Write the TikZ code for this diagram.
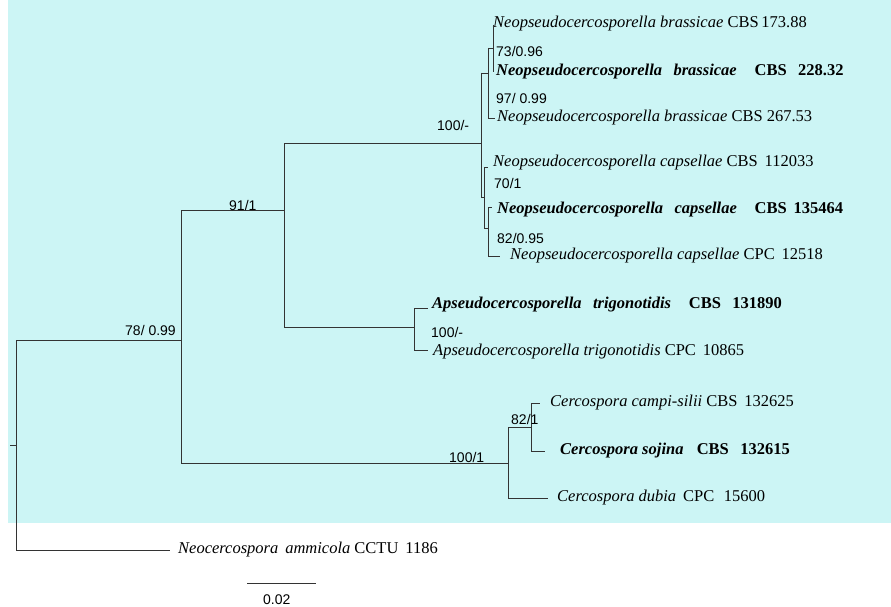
\documentclass[tikz,border=0pt]{standalone}
\usepackage{fontspec}
\setmainfont{Liberation Serif}
\setsansfont{Liberation Sans}
\definecolor{bg}{RGB}{204,245,245}
\begin{document}
\begin{tikzpicture}[x=1pt,y=-1pt,
  br/.style={line width=0.7pt,black!80},
  tx/.style={anchor=west,inner sep=0pt,font=\fontsize{16.5}{18}\selectfont},
  sp/.style={anchor=west,inner sep=0pt,font=\sffamily\fontsize{14}{16}\selectfont}]
\useasboundingbox (0,0) rectangle (891,607);
\fill[bg] (8,0) rectangle (891,523);
\coordinate (r) at (16,445);
\coordinate (rs) at (10,445);
\coordinate (n78) at (181,340);
\coordinate (n91) at (284,210);
\coordinate (n100a) at (481,143);
\coordinate (nbr) at (488,73);
\coordinate (n73) at (493,48);
\coordinate (nca) at (484,197);
\coordinate (n82b) at (488,228);
\coordinate (nap) at (414,327);
\coordinate (n100c) at (508,463);
\coordinate (n82) at (531,427);
% leaves
\node[tx] (t1) at (493,24) {\textit{Neopseudocercosporella brassicae} CBS\,173.88};
\node[tx] (t2) at (496,72) {\textbf{\textit{Neopseudocercosporella\;\, brassicae}\;\;\; CBS\;\, 228.32}};
\node[tx] (t3) at (497,118) {\textit{Neopseudocercosporella brassicae} CBS 267.53};
\node[tx] (t4) at (493,163) {\textit{Neopseudocercosporella capsellae} CBS\, 112033};
\node[tx] (t5) at (497,210) {\textbf{\textit{Neopseudocercosporella\;\, capsellae}\;\;\; CBS\, 135464}};
\node[tx] (t6) at (510,256) {\textit{Neopseudocercosporella capsellae} CPC\, 12518};
\node[tx] (t7) at (432,305) {\textbf{\textit{Apseudocercosporella\;\, trigonotidis}\;\;\; CBS\;\, 131890}};
\node[tx] (t8) at (433,352) {\textit{Apseudocercosporella trigonotidis} CPC\, 10865};
\node[tx] (t9) at (550,403) {\textit{Cercospora campi-silii} CBS\, 132625};
\node[tx] (t10) at (560,451) {\textbf{\textit{Cercospora sojina}\;\; CBS\;\, 132615}};
\node[tx] (t11) at (557,498) {\textit{Cercospora dubia}\, CPC\,\, 15600};
\node[tx] (t12) at (178,550) {\textit{Neocercospora\, ammicola} CCTU\, 1186};
% branches
\draw[br] (rs) -- (r);
\draw[br] (16,340) -- (16,550) -- (170,550);
\draw[br] (16,340) -- (n78);
\draw[br] (181,210) -- (181,463);
\draw[br] (181,210) -- (n91);
\draw[br] (181,463) -- (n100c);
\draw[br] (284,143) -- (284,327) -- (nap);
\draw[br] (284,143) -- (n100a);
\draw[br] (481,73) -- (481,197);
\draw[br] (481,73) -- (nbr);
\draw[br] (488,48) -- (488,118) -- (495,118);
\draw[br] (488,48) -- (n73);
\draw[br] (493,25) -- (493,72);
\draw[br] (481,197) -- (nca);
\draw[br] (484,167) -- (484,228) -- (n82b);
\draw[br] (484,167) -- (488,167);
\draw[br] (488,207) -- (488,256) -- (500,256);
\draw[br] (488,207) -- (492,207);
\draw[br] (414,308) -- (414,350);
\draw[br] (414,308) -- (428,308);
\draw[br] (414,350) -- (428,350);
\draw[br] (508,427) -- (508,498) -- (548,498);
\draw[br] (508,427) -- (n82);
\draw[br] (531,403) -- (531,451) -- (545,451);
\draw[br] (531,403) -- (540,403);
% support
\node[sp] (s1) at (496,51) {73/0.96};
\node[sp] (s2) at (496,98) {97/ 0.99};
\node[sp] (s3) at (437,125) {100/-};
\node[sp] (s4) at (494,183) {70/1};
\node[sp] (s5) at (497,238) {82/0.95};
\node[sp] (s6) at (431,332) {100/-};
\node[sp] (s7) at (511,419) {82/1};
\node[sp] (s8) at (449,457) {100/1};
\node[sp] (s9) at (229,205) {91/1};
\node[sp] (s10) at (125,330) {78/ 0.99};
% scale
\coordinate (sa) at (247,583); \coordinate (sb) at (316,583);
\draw[br] (sa) -- (sb);
\node[sp] (sl) at (263,600) {0.02};
\end{tikzpicture}
\end{document}
